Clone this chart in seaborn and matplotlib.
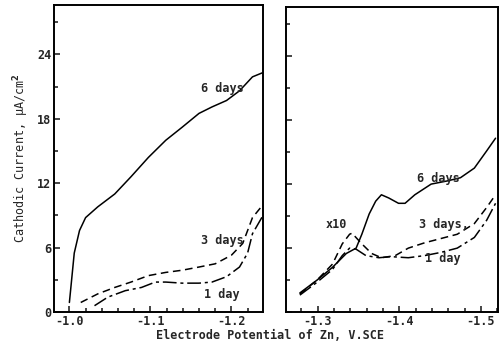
import pandas as pd
import matplotlib
matplotlib.use("Agg")
import matplotlib.pyplot as plt
from matplotlib.ticker import MultipleLocator, FixedLocator, FuncFormatter
import seaborn as sns

sns.set_style("ticks")
plt.rcParams["font.family"] = ["DejaVu Sans Mono", "DejaVu Sans"]
plt.rcParams["font.weight"] = "bold"
plt.rcParams["font.size"] = 8.5

# ---- dados: painel esquerdo (-1.0 .. -1.24 V) ----
e6_esq = [-1.000, -1.006, -1.0125, -1.020, -1.035, -1.056, -1.076, -1.0975, -1.119,
          -1.139, -1.160, -1.176, -1.194, -1.210, -1.226, -1.239]
i6_esq = [0.9, 5.5, 7.6, 8.8, 9.8, 11.0, 12.6, 14.4, 16.0,
          17.2, 18.5, 19.1, 19.7, 20.6, 21.9, 22.3]

e3_esq = [-1.014, -1.035, -1.056, -1.076, -1.0975, -1.119, -1.139, -1.160,
          -1.180, -1.200, -1.214, -1.226, -1.239]
i3_esq = [0.9, 1.7, 2.3, 2.8, 3.4, 3.7, 3.9, 4.2, 4.5, 5.3, 6.4, 8.8, 10.0]

e1_esq = [-1.031, -1.0475, -1.069, -1.089, -1.106, -1.119, -1.139, -1.160,
          -1.176, -1.194, -1.210, -1.220, -1.226, -1.239]
i1_esq = [0.6, 1.4, 2.0, 2.3, 2.8, 2.8, 2.7, 2.7, 2.8, 3.3, 4.2, 5.5, 7.3, 9.0]

# ---- dados: painel direito (-1.28 .. -1.52 V), x10 ----
e6_dir = [-1.278, -1.299, -1.318, -1.335, -1.347, -1.354, -1.363, -1.371, -1.378,
          -1.387, -1.399, -1.407, -1.419, -1.439, -1.459, -1.475, -1.492, -1.507, -1.518]
i6_dir = [1.8, 3.0, 4.2, 5.5, 6.0, 7.3, 9.2, 10.4, 11.0,
          10.7, 10.2, 10.2, 11.0, 12.0, 12.3, 12.6, 13.5, 15.1, 16.3]

e3_dir = [-1.278, -1.299, -1.318, -1.330, -1.339, -1.342, -1.354, -1.366, -1.378,
          -1.395, -1.411, -1.431, -1.451, -1.471, -1.492, -1.507, -1.518]
i3_dir = [1.7, 3.0, 4.5, 6.4, 7.3, 7.4, 6.4, 5.5, 5.1,
          5.3, 6.0, 6.5, 6.9, 7.3, 8.3, 9.8, 11.0]

e1_dir = [-1.278, -1.299, -1.318, -1.330, -1.339, -1.347, -1.359, -1.375, -1.390,
          -1.411, -1.431, -1.451, -1.471, -1.492, -1.507, -1.518]
i1_dir = [1.6, 2.8, 4.0, 5.3, 6.0, 5.9, 5.3, 5.1, 5.2,
          5.1, 5.3, 5.6, 6.0, 7.0, 8.6, 10.2]

dias = ["6 days", "3 days", "1 day"]


def montar(series):
    partes = []
    for nome, (e, i) in zip(dias, series):
        partes.append(pd.DataFrame({"E": e, "I": i, "dias": nome}))
    return pd.concat(partes, ignore_index=True)


df_esq = montar([(e6_esq, i6_esq), (e3_esq, i3_esq), (e1_esq, i1_esq)])
df_dir = montar([(e6_dir, i6_dir), (e3_dir, i3_dir), (e1_dir, i1_dir)])

estilos = {"6 days": "", "3 days": (5, 3), "1 day": (9, 2.5, 2, 2.5)}

fig = plt.figure(figsize=(5, 3.48), dpi=100)
ax1 = fig.add_axes([0.108, 0.103, 0.418, 0.883])
ax2 = fig.add_axes([0.572, 0.103, 0.424, 0.877])

for ax, df in [(ax1, df_esq), (ax2, df_dir)]:
    sns.lineplot(data=df, x="E", y="I", hue="dias", style="dias",
                 dashes=estilos, palette=["black"] * 3, linewidth=1.1,
                 sort=False, legend=False, ax=ax)
    ax.set_ylim(0, 28.6)
    ax.set_xlabel("")
    ax.set_ylabel("")
    ax.xaxis.set_minor_locator(MultipleLocator(0.02))
    ax.yaxis.set_major_locator(FixedLocator([0, 6, 12, 18, 24]))
    ax.yaxis.set_minor_locator(FixedLocator([3, 9, 15, 21, 27]))
    ax.tick_params(which="both", direction="in", width=1.2, pad=2)
    ax.tick_params(which="major", length=4)
    ax.tick_params(which="minor", length=3)
    for s in ax.spines.values():
        s.set_linewidth(1.4)
        s.set_color("black")

ax1.set_xlim(-0.981, -1.239)
ax1.xaxis.set_major_locator(FixedLocator([-1.0, -1.1, -1.2]))
ax1.xaxis.set_major_formatter(FuncFormatter(lambda v, p: f"{v:.1f}"))
ax1.set_ylabel("Cathodic Current, μA/cm$^2$", labelpad=4)

ax2.set_xlim(-1.261, -1.521)
ax2.xaxis.set_major_locator(FixedLocator([-1.3, -1.4, -1.5]))
ax2.xaxis.set_major_formatter(FuncFormatter(lambda v, p: f"{v:.1f}"))
ax2.tick_params(axis="y", labelleft=False)

# rotulos das curvas
ax1.text(-1.162, 20.8, "6 days", ha="left", va="center")
ax1.text(-1.163, 6.7, "3 days", ha="left", va="center")
ax1.text(-1.166, 1.6, "1 day", ha="left", va="center")

ax2.text(-1.422, 12.5, "6 days", ha="left", va="center")
ax2.text(-1.424, 8.2, "3 days,", ha="left", va="center")
ax2.text(-1.432, 5.0, "1 day", ha="left", va="center")
ax2.text(-1.310, 8.2, "x10", ha="left", va="center")

fig.text(0.54, 0.035, "Electrode Potential of Zn, V.SCE", ha="center", va="center")

fig.savefig("out.png", dpi=100)
